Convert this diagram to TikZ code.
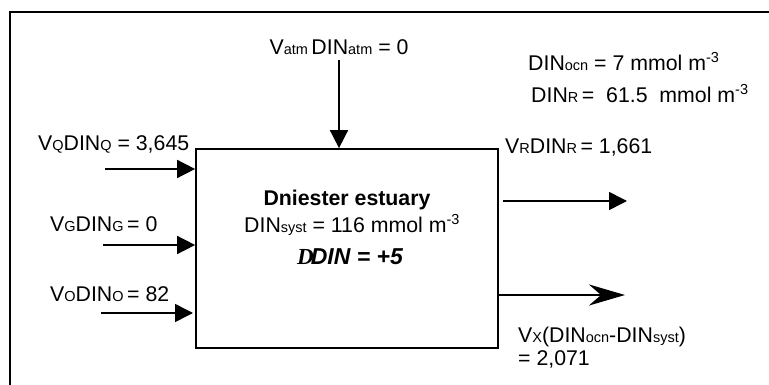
\documentclass[tikz,border=0pt]{standalone}
\usepackage{fontspec}
\setmainfont{Liberation Sans}
\newfontfamily\serfont{Liberation Serif}
\usetikzlibrary{arrows.meta}
\newcommand{\sbs}[1]{{\fontsize{14.5}{14.5}\selectfont #1}}
\newcommand{\sps}[1]{\raisebox{8pt}{\fontsize{14.5}{14.5}\selectfont #1}}
\tikzset{
  lbl/.style={anchor=base west, inner sep=0pt, font=\fontsize{21.3}{25}\selectfont},
  ctr/.style={anchor=base, inner sep=0pt, font=\fontsize{21.3}{25}\selectfont},
  flow/.style={line width=1.6pt, -{Triangle[length=18pt,width=18pt]}},
  bigflow/.style={line width=2.8pt, -{Stealth[length=36pt,width=21pt,inset=12pt]}},
  estbox/.style={draw, line width=1.7pt, minimum width=302pt, minimum height=199pt, inner sep=0pt}
}
\begin{document}
\begin{tikzpicture}[x=1pt,y=-1pt]
\path[use as bounding box] (0,0) rectangle (769,385);
\clip (0,0) rectangle (769,385);
\fill[white] (0,0) rectangle (769,385);
% outer frame (extends beyond the page)
\draw[line width=1.7pt] (10,400) -- (10,12) -- (790,12);
% box
\node[estbox] (box) at (347,248.5) {};
\node[ctr, font=\fontsize{21.3}{25}\selectfont\bfseries] (t1) at (347,205) {Dniester estuary};
\node[lbl] (t2) at (244,233) {DIN\sbs{syst} = 116 mmol m\sps{-3}};
\node[ctr, font=\fontsize{23}{27}\selectfont] (t3) at (350,264) {{\serfont\bfseries\itshape D}\kern-3pt{\bfseries\itshape DIN = +5}};
% top input
\node[ctr] (latm) at (339,55) {V\sbs{atm}\,DIN\sbs{atm} = 0};
\coordinate (a0) at (339,60);
\draw[flow] (a0) -- (a0 |- box.north);
% left inputs
\node[lbl] (lq) at (38,150.5) {V\sbs{Q}DIN\sbs{Q} = 3,645};
\coordinate (q0) at (105,169);
\draw[flow] (q0) -- (q0 -| box.west);
\node[lbl] (lg) at (50,232) {V\sbs{G}DIN\sbs{G}\,= 0};
\coordinate (g0) at (103,245);
\draw[flow] (g0) -- (g0 -| box.west);
\node[lbl] (lo) at (50,301) {V\sbs{O}DIN\sbs{O}\,= 82};
\coordinate (o0) at (101,313);
\coordinate (o1) at (193,313);
\draw[flow] (o0) -- (o1);
% right side
\node[lbl] (locn) at (528,71) {DIN\sbs{ocn} = 7 mmol m\sps{-3}};
\node[lbl] (lr) at (531,103) {DIN\sbs{R}\,= \ 61.5 \ mmol m\sps{-3}};
\node[lbl] (lvr) at (505,154) {V\sbs{R}DIN\sbs{R}\,= 1,661};
\coordinate (r1) at (627,201);
\draw[flow] ([xshift=4pt]r1 -| box.east) -- (r1);
\coordinate (x1) at (625,295);
\draw[bigflow] (x1 -| box.east) -- (x1);
\node[lbl] (lx) at (518,342) {V\sbs{X}(DIN\sbs{ocn}-DIN\sbs{syst})};
\node[lbl] (lx2) at (518,365) {= 2,071};
\end{tikzpicture}
\end{document}
